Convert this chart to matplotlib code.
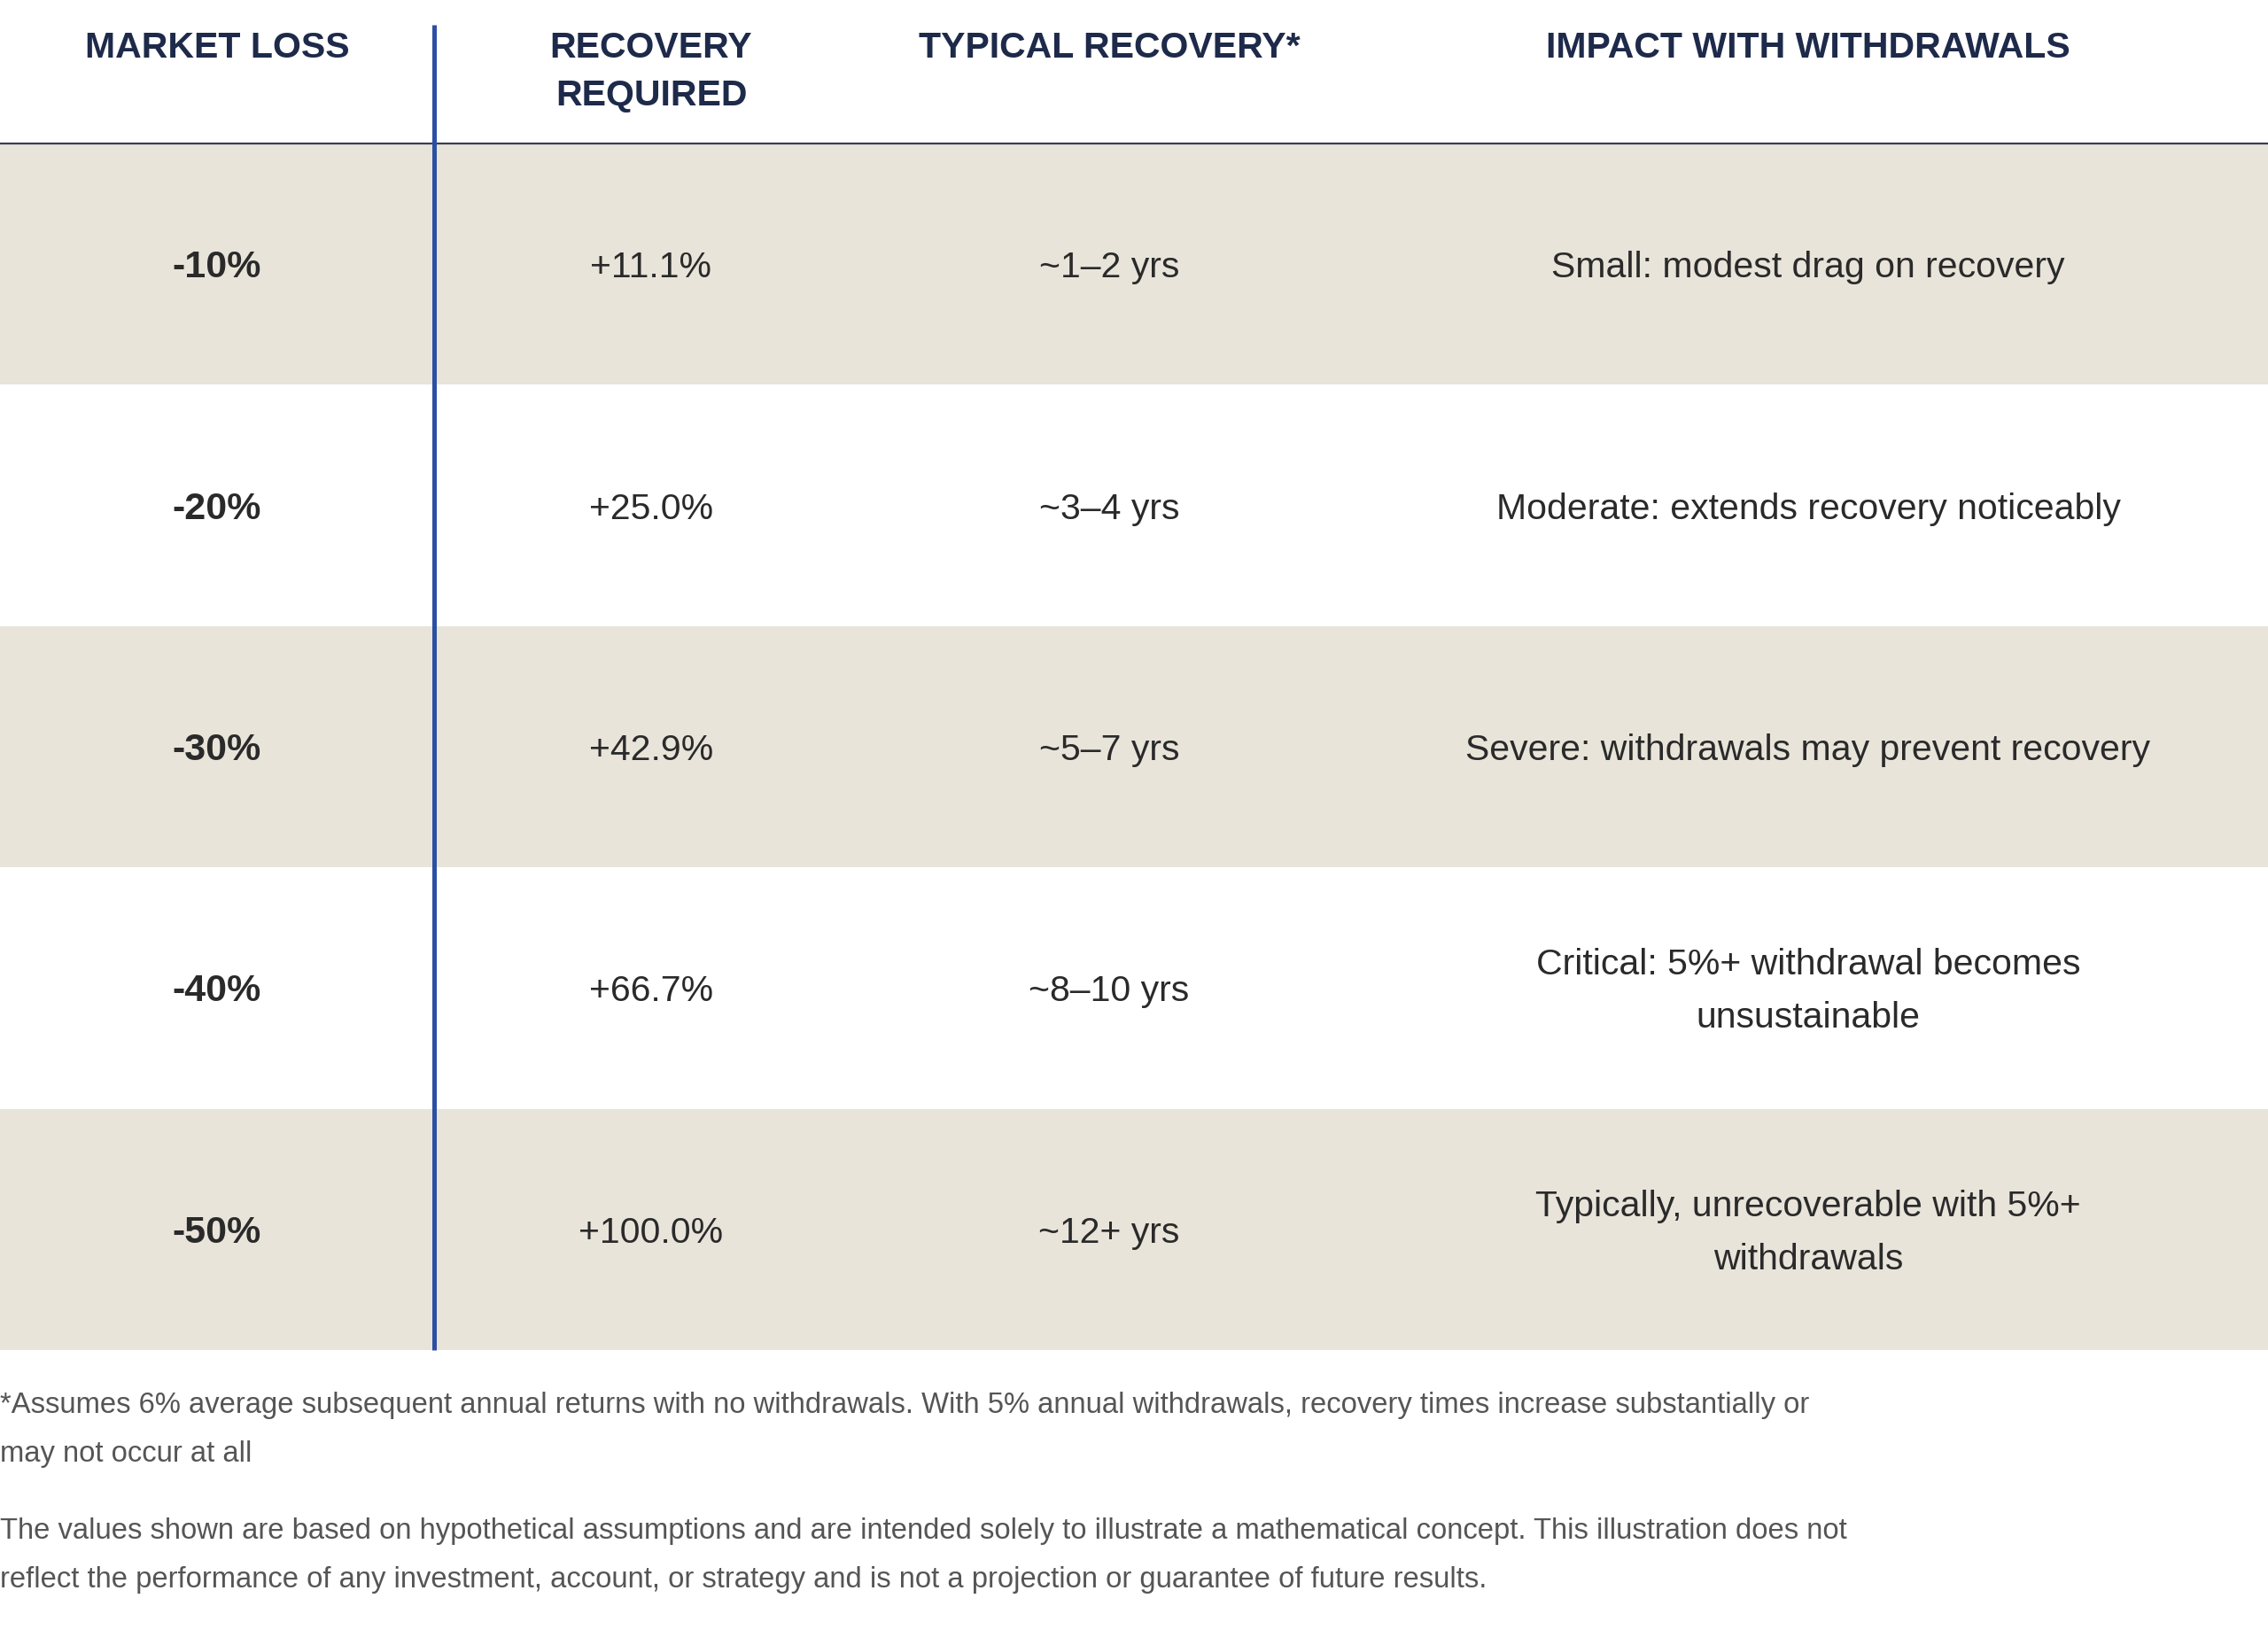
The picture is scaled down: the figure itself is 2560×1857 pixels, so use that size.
import matplotlib
matplotlib.use("Agg")
import matplotlib.pyplot as plt

# Табличные данные
headers = [["MARKET LOSS"], ["RECOVERY", "REQUIRED"], ["TYPICAL RECOVERY*"], ["IMPACT WITH WITHDRAWALS"]]
market_loss = ["-10%", "-20%", "-30%", "-40%", "-50%"]
recovery_required = ["+11.1%", "+25.0%", "+42.9%", "+66.7%", "+100.0%"]
typical_recovery = ["~1\u20132 yrs", "~3\u20134 yrs", "~5\u20137 yrs", "~8\u201310 yrs", "~12+ yrs"]
impact = [
    ["Small: modest drag on recovery"],
    ["Moderate: extends recovery noticeably"],
    ["Severe: withdrawals may prevent recovery"],
    ["Critical: 5%+ withdrawal becomes", "unsustainable"],
    ["Typically, unrecoverable with 5%+", "withdrawals"],
]
footnote = [
    "*Assumes 6% average subsequent annual returns with no withdrawals. With 5% annual withdrawals, recovery times increase substantially or",
    "may not occur at all",
]
disclaimer = [
    "The values shown are based on hypothetical assumptions and are intended solely to illustrate a mathematical concept. This illustration does not",
    "reflect the performance of any investment, account, or strategy and is not a projection or guarantee of future results.",
]

W, H = 2560, 1857
col_x = [245, 735, 1252, 2041]
header_bottom = 162
row_h = 272.4
divider_x = 490
beige = "#E8E4DA"
navy = "#1E2A4A"
body = "#2A2A2A"
grey = "#555555"
font = "Liberation Sans"
fs = 29.5

fig = plt.figure(figsize=(W / 100, H / 100), dpi=100)
ax = fig.add_axes([0, 0, 1, 1])
ax.set_xlim(0, W)
ax.set_ylim(H, 0)
ax.axis("off")

# Заголовки
for x, lines in zip(col_x, headers):
    for k, line in enumerate(lines):
        ax.text(x, 65 + k * 54, line, ha="center", va="baseline", fontsize=fs,
                fontweight="bold", color=navy, family=font)

# Строки таблицы
for i in range(len(market_loss)):
    top = header_bottom + i * row_h
    if i % 2 == 0:
        ax.axhspan(top, top + row_h, color=beige, lw=0, zorder=0)
    mid = top + row_h / 2
    base = mid + 15
    ax.text(col_x[0], base, market_loss[i], ha="center", va="baseline", fontsize=31,
            fontweight="bold", color=body, family=font)
    ax.text(col_x[1], base, recovery_required[i], ha="center", va="baseline", fontsize=fs,
            color=body, family=font)
    ax.text(col_x[2], base, typical_recovery[i], ha="center", va="baseline", fontsize=fs,
            color=body, family=font)
    lines = impact[i]
    offs = [0] if len(lines) == 1 else [-30, 30]
    for line, o in zip(lines, offs):
        ax.text(col_x[3], base + o, line, ha="center", va="baseline", fontsize=fs,
                color=body, family=font)

table_bottom = header_bottom + len(market_loss) * row_h
ax.axhline(header_bottom, color="#3A3F4F", lw=1.6, zorder=2)
ax.plot([divider_x, divider_x], [28, table_bottom], color="#2B4FA3", lw=3.6, zorder=3,
        solid_capstyle="butt")

# Примечания
for k, line in enumerate(footnote):
    ax.text(0, 1595 + k * 55, line, ha="left", va="baseline", fontsize=23.6, color=grey, family=font)
for k, line in enumerate(disclaimer):
    ax.text(0, 1737 + k * 55, line, ha="left", va="baseline", fontsize=23.6, color=grey, family=font)

fig.savefig("out.png", dpi=100, facecolor="white")
